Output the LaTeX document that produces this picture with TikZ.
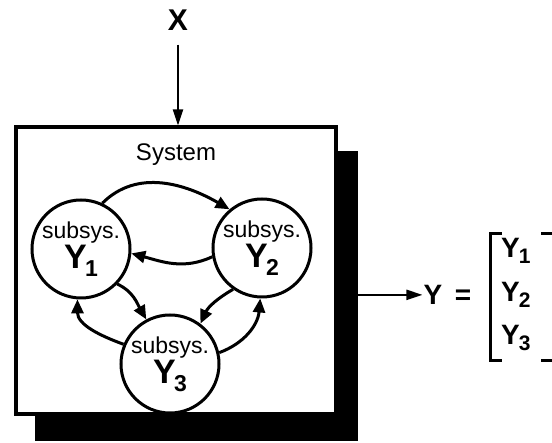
\documentclass[tikz,border=0pt]{standalone}
\usepackage{fontspec}
\setmainfont{Liberation Sans}
\usetikzlibrary{arrows.meta}
\newcommand{\circY}[1]{{\fontsize{34}{34}\selectfont\bfseries Y\kern-1.5pt\raisebox{-8pt}{\fontsize{23}{23}\selectfont #1}}}
\newcommand{\matY}[1]{{\fontsize{28}{28}\selectfont\bfseries Y\kern-1pt\raisebox{-6pt}{\fontsize{21}{21}\selectfont #1}}}
\tikzset{
  sub/.style={circle, draw, line width=3pt, minimum size=98pt, inner sep=0pt, align=center, fill=white,
              font=\fontsize{23}{26}\selectfont},
  arr/.style={line width=3pt, -{Triangle[length=14pt,width=12pt]}},
  bigarr/.style={line width=2.2pt, -{Triangle[length=16pt,width=10pt]}},
}
\begin{document}
\begin{tikzpicture}[x=1pt,y=1pt]
\clip (0,0) rectangle (552,443);
\fill[white] (0,0) rectangle (552,443);
% shadow and box
\node[fill=black, inner sep=0pt, minimum width=323pt, minimum height=290pt, anchor=south west] (shadow) at (35,2) {};
\node[draw, fill=white, line width=3.5pt, inner sep=0pt, minimum width=320pt, minimum height=287pt, anchor=south west] (box) at (14,27) {};
\node[font=\fontsize{24}{24}\selectfont] (systxt) at (176,288) {System};
% input
\node[inner sep=0pt, font=\fontsize{30}{30}\selectfont\bfseries] (xin) at (178,423) {X};
\draw[bigarr, shorten <=14pt] (xin.south) -- (xin.south |- box.north);
% subsystems
\node[sub] (c1) at (81,194) {subsys.\\[1pt]\circY{1}};
\node[sub] (c2) at (262,195) {subsys.\\[1pt]\circY{2}};
\node[sub] (c3) at (170,79) {subsys.\\[1pt]\circY{3}};
\draw[arr] (c1.65) to[out=45,in=150] (c2.130);
\draw[arr] (c2.190) to[out=205,in=-15] (c1.-5);
\draw[arr] (c1.-44) to[out=-25,in=120] (c3.118);
\draw[arr] (c3.157) to[out=160,in=-90] (c1.-94);
\draw[arr] (c2.235) to[out=210,in=65] (c3.53);
\draw[arr] (c3.13) to[out=20,in=-95] (c2.-92);
% output
\node[inner sep=1pt, anchor=base, font=\fontsize{28}{28}\selectfont\bfseries] (ylab) at (433,138.5) {Y};
\node[inner sep=0pt, anchor=base, font=\fontsize{28}{28}\selectfont\bfseries] (eq) at (463,138.5) {=};
\draw[bigarr] (shadow.east |- ylab.west) -- (ylab.west);
\node[inner sep=0pt, anchor=base west] (m1) at (501,185.5) {\matY{1}};
\node[inner sep=0pt, anchor=base west] (m2) at (501,141.5) {\matY{2}};
\node[inner sep=0pt, anchor=base west] (m3) at (501,98.5) {\matY{3}};
\draw[line width=3pt] (502,209) -- (490,209) -- (490,82) -- (502,82);
\draw[line width=3pt] (541,209) -- (554,209) -- (554,82) -- (541,82);
\end{tikzpicture}
\end{document}
